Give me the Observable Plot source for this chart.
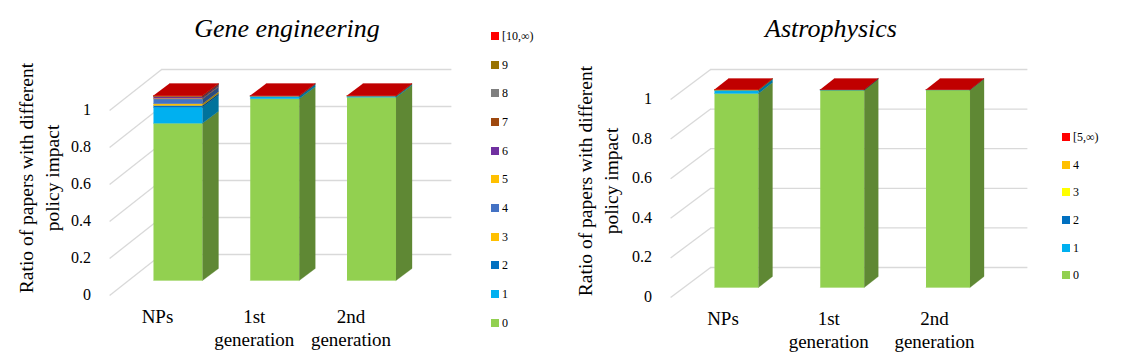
<!DOCTYPE html>
<html><head><meta charset="utf-8">
<script src="https://cdn.jsdelivr.net/npm/d3@7"></script>
<script src="https://cdn.jsdelivr.net/npm/@observablehq/plot@0.6"></script>
<style>
body{margin:0;background:#fff;}
#wrap{position:relative;width:1124px;height:364px;font-family:"Liberation Serif","Times New Roman",serif;overflow:hidden;color:#000;}
.panel{position:absolute;top:0;}
.lbl{position:absolute;white-space:pre;line-height:1;}
.leg{position:absolute;font-size:12px;line-height:12px;white-space:nowrap;}
.leg i{position:absolute;left:0;top:2px;width:8px;height:8px;}
.leg span{position:absolute;left:11px;top:0;}
</style>
</head><body>
<div id="wrap"></div>
<script>
// ---- data ----
const categories = ["NPs", "1st\ngeneration", "2nd\ngeneration"];
const yTicks = [0, 0.2, 0.4, 0.6, 0.8, 1];
const yTickLabels = ["0", "0.2", "0.4", "0.6", "0.8", "1"];
const yTitle = "Ratio of papers with different\npolicy impact";

const geneTitle = "Gene engineering";
const geneSeries = ["0","1","2","3","4","5","6","7","8","9","[10,∞)"];
const geneColors = ["#92D050","#00B0F0","#0070C0","#FFC000","#4472C4","#FFC000","#7030A0","#9E480E","#7F7F7F","#997300","#FF0000"];
const geneNPs = [0.850, 0.086, 0.010, 0.010, 0.026, 0.003, 0.008, 0.002, 0.001, 0.001, 0.003];
const gene1st = [0.982, 0.012, 0.002, 0.001, 0.001, 0, 0, 0, 0, 0, 0.002];
const gene2nd = [0.990, 0.006, 0.001, 0.001, 0, 0, 0, 0, 0, 0, 0.002];

const astroTitle = "Astrophysics";
const astroSeries = ["0","1","2","3","4","[5,∞)"];
const astroColors = ["#92D050","#00B0F0","#0070C0","#FFFF00","#FFC000","#FF0000"];
const astroNPs = [0.980, 0.015, 0.002, 0.001, 0.001, 0.001];
const astro1st = [0.997, 0.001, 0.001, 0, 0, 0.001];
const astro2nd = [0.998, 0.001, 0, 0, 0, 0.001];

// ---- drawing ----
const grid = "#D9D9D9";
const wrap = document.getElementById("wrap");

function label(text, left, top, css) {
  const d = document.createElement("div");
  d.className = "lbl";
  d.textContent = text;
  d.style.left = left + "px";
  d.style.top = top + "px";
  Object.assign(d.style, css);
  wrap.appendChild(d);
  return d;
}

function panel(cfg) {
  const {offset, title, colors, values, xRange, yRange, front, back, barW, side, tickGap, titleX, yTitleX, yTitleY} = cfg;
  const ux = (xRange[1] - xRange[0]) / 3;
  const uy = yRange[0] - yRange[1];
  const X = px => px / ux, Y = px => -px / uy;
  const faces = [];
  values.forEach((vals, i) => {
    let lo = 0, top = 0;
    const xl = i - X(barW / 2), xr = i + X(barW / 2);
    const sx = X(side[0]), sy = Y(side[1]);
    const fronts = [], sides = [];
    vals.forEach((v, k) => {
      if (v <= 0) return;
      const hi = lo + v;
      fronts.push({id: `f${i}-${k}`, pts: [[xl, lo], [xr, lo], [xr, hi], [xl, hi]], color: colors[k]});
      sides.push({id: `s${i}-${k}`, pts: [[xr, lo], [xr + sx, lo + sy], [xr + sx, hi + sy], [xr, hi]], color: d3.rgb(colors[k]).darker(1.2).formatHex()});
      lo = hi; top = k;
    });
    faces.push(...fronts, ...sides);
    faces.push({id: `t${i}`, pts: [[xl, lo], [xr, lo], [xr + sx, lo + sy], [xl + sx, lo + sy]], color: d3.rgb(colors[top]).darker(0.8).formatHex()});
  });
  const pts = faces.flatMap(f => f.pts.map(([x, y]) => ({id: f.id, x, y, color: f.color})));

  const svg = Plot.plot({
    width: 562, height: 364, margin: 0,
    x: {domain: [-0.5, 2.5], range: xRange, axis: null},
    y: {domain: [0, 1], range: yRange, axis: null},
    color: {type: "identity"},
    style: {background: "transparent", overflow: "visible"},
    marks: [
      Plot.ruleY(yTicks, {y: d => d, x1: -0.5, x2: 2.5, dx: back[0], dy: back[1], stroke: grid, strokeWidth: 1.3}),
      Plot.link(yTicks, {x1: () => -0.5 + X(front[0]), y1: d => d + Y(front[1]), x2: () => -0.5 + X(back[0]), y2: d => d + Y(back[1]), stroke: grid, strokeWidth: 1.3}),
      Plot.line(pts, {x: "x", y: "y", z: "id", fill: "color", stroke: "color", strokeWidth: 0.3})
    ]
  });
  svg.classList.add("panel");
  svg.style.left = offset + "px";
  wrap.appendChild(svg);

  // texts placed through the plot's own scales
  const sxS = svg.scale("x"), syS = svg.scale("y");
  const xWall = offset + sxS.apply(-0.5) + front[0];
  yTicks.forEach((v, i) => {
    label(yTickLabels[i], xWall - tickGap - 100, syS.apply(v) + front[1], {
      width: "100px", textAlign: "right", fontSize: "16px", transform: "translateY(-50%)"
    });
  });
  const y0 = syS.apply(0) + front[1];
  categories.forEach((c, i) => {
    label(c, offset + sxS.apply(i) + front[0] - 80, y0 + 10, {
      width: "160px", textAlign: "center", fontSize: "19px", lineHeight: "23px"
    });
  });
  label(title, offset + titleX, 29, {fontSize: "26px", fontStyle: "italic", transform: "translate(-50%,-50%)"});
  label(yTitle, offset + yTitleX, yTitleY, {
    fontSize: "19.5px", lineHeight: "26px", textAlign: "center", transform: "translate(-50%,-50%) rotate(-90deg)"
  });
}

panel({
  offset: 0, title: geneTitle, colors: geneColors, values: [geneNPs, gene1st, gene2nd],
  xRange: [129.1, 419.4], yRange: [280, 95], front: [-20, 15], back: [32, -26],
  barW: 49, side: [16, -12], tickGap: 18, titleX: 287, yTitleX: 40, yTitleY: 178
});

panel({
  offset: 562, title: astroTitle, colors: astroColors, values: [astroNPs, astro1st, astro2nd],
  xRange: [121.1, 438.4], yRange: [287, 89], front: [-13, 10], back: [27, -20],
  barW: 44, side: [14, -11], tickGap: 18, titleX: 269, yTitleX: 36.5, yTitleY: 181
});

function legend(series, colors, x, yTop, step) {
  const n = series.length;
  for (let j = 0; j < n; j++) {
    const k = n - 1 - j;
    const el = document.createElement("div");
    el.className = "leg";
    el.style.left = x + "px";
    el.style.top = (yTop + j * step - 6) + "px";
    el.innerHTML = `<i style="background:${colors[k]}"></i><span>${series[k]}</span>`;
    wrap.appendChild(el);
  }
}
legend(geneSeries, geneColors, 491, 36, 28.67);
legend(astroSeries, astroColors, 1062, 137, 27.65);
</script>
</body></html>
